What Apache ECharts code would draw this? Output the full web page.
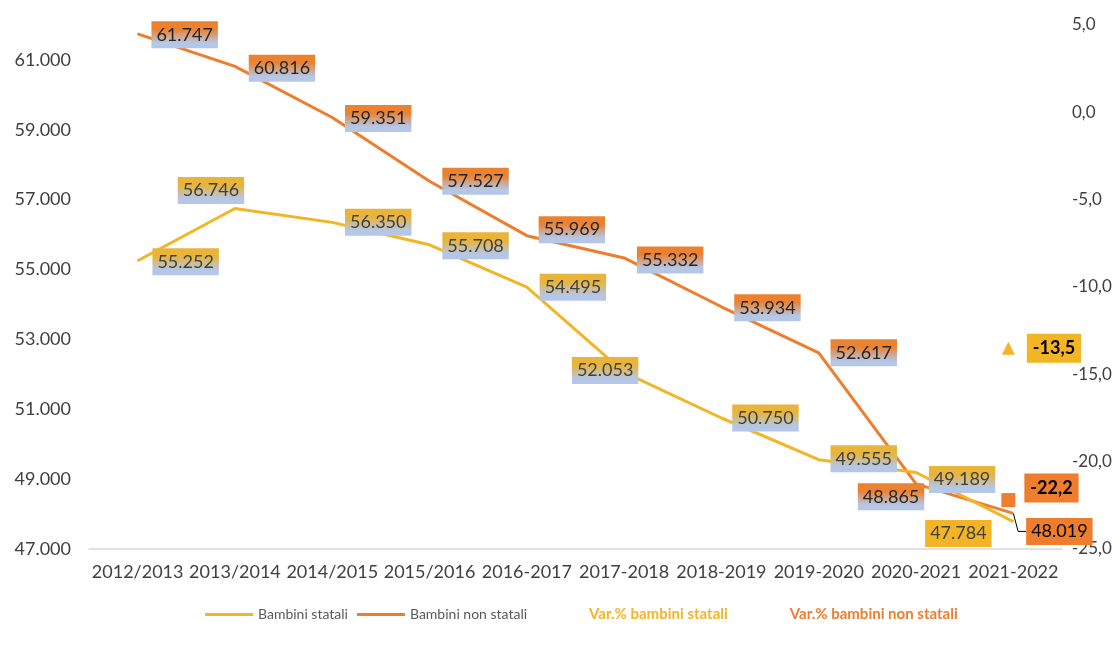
<!DOCTYPE html>
<html>
<head>
<meta charset="UTF-8">
<title>Bambini statali e non statali</title>
<script src="https://cdn.jsdelivr.net/npm/echarts@6/dist/echarts.min.js"></script>
<style>
  html, body { margin: 0; padding: 0; background: #fff; }
  #chart { width: 1120px; height: 646px; }
</style>
</head>
<body>
<div id="chart"></div>
<script>
// dati
var categories = ['2012/2013', '2013/2014', '2014/2015', '2015/2016', '2016-2017',
                  '2017-2018', '2018-2019', '2019-2020', '2020-2021', '2021-2022'];
var bambiniStatali    = [55252, 56746, 56350, 55708, 54495, 52053, 50750, 49555, 49189, 47784];
var bambiniNonStatali = [61747, 60816, 59351, 57527, 55969, 55332, 53934, 52617, 48865, 48019];
// variazione % 2012/2013 -> 2021-2022, solo sull'ultima categoria
var varStatali    = [null, null, null, null, null, null, null, null, null, -13.5];
var varNonStatali = [null, null, null, null, null, null, null, null, null, -22.2];
var leftAxis  = { min: 47000, max: 62000, step: 2000 };
var rightAxis = { min: -25, max: 5, step: 5 };

var YELLOW = '#F2B525';
var ORANGE = '#EE7D2E';
var FONT = 'Lato';
var LAST = bambiniNonStatali.length - 1;

// spostamento delle etichette rispetto al punto [dx, dy]
var offStatali    = [[48, 1], [-24, -18], [46, 0], [46, 1], [46, 0], [-19, -2], [44, 0], [45, -1], [46, 7], [-55, 12]];
var offNonStatali = [[47, 1], [47, 2], [46, 1], [46, 0], [45, -6], [46, 2], [46, 1], [45, 0], [-25, 13], [0, 0]];

function fmtThousands(v) {
  var s = String(Math.round(v));
  return s.replace(/\B(?=(\d{3})+(?!\d))/g, '.');
}
function fmtPct(p) { return p.value.toFixed(1).replace('.', ','); }
function grad(top) {
  return new echarts.graphic.LinearGradient(0, 0, 0, 1, [
    { offset: 0, color: top },
    { offset: 0.3, color: top },
    { offset: 0.8, color: '#B4C7E7' },
    { offset: 1, color: '#B4C7E7' }
  ]);
}

function lineData(values, offs, topColor, textColor, lastSolid, hideLast) {
  return values.map(function (v, i) {
    var lab = {
      show: true,
      position: 'inside',
      offset: offs[i],
      backgroundColor: grad(topColor),
      color: textColor
    };
    if (i === values.length - 1) {
      lab.backgroundColor = lastSolid;
      if (hideLast) lab.show = false;
    }
    return { value: v, label: lab };
  });
}

var chart = echarts.init(document.getElementById('chart'));
var baseLabel = {
  fontFamily: FONT,
  fontSize: 18,
  padding: [5, 5, 4, 5],
  formatter: function (p) { return fmtThousands(p.value); }
};

// solo l'ultimo valore dei non statali, con la linea guida verso l'etichetta
var lastNonStatali = bambiniNonStatali.map(function (v, i) { return i === LAST ? v : null; });

var option = {
  animation: false,
  backgroundColor: '#ffffff',
  textStyle: { fontFamily: FONT },
  grid: { left: 89, right: 58, top: 25, bottom: 97 },
  legend: {
    left: 200,
    top: 602,
    itemWidth: 48,
    itemHeight: 3,
    itemGap: 9,
    selectedMode: false,
    textStyle: { fontSize: 14, color: '#595959', fontFamily: FONT },
    data: [
      { name: 'Bambini statali', icon: 'rect' },
      { name: 'Bambini non statali', icon: 'rect' },
      { name: 'Var.% bambini statali', icon: 'none',
        textStyle: { color: YELLOW, fontWeight: 'bold', fontSize: 15 } },
      { name: 'Var.% bambini non statali', icon: 'none',
        textStyle: { color: ORANGE, fontWeight: 'bold', fontSize: 15 } }
    ]
  },
  xAxis: {
    type: 'category',
    data: categories,
    boundaryGap: true,
    axisLine: { onZero: false, lineStyle: { color: '#D9D9D9', width: 1.5 } },
    axisTick: { show: false },
    axisLabel: { interval: 0, color: '#404040', fontSize: 18, margin: 14, fontFamily: FONT }
  },
  yAxis: [{
    type: 'value',
    min: leftAxis.min,
    max: leftAxis.max,
    interval: leftAxis.step,
    splitLine: { show: false },
    axisLine: { show: false },
    axisTick: { show: false },
    axisLabel: {
      showMaxLabel: false,
      color: '#404040', fontSize: 18, margin: 18, fontFamily: FONT,
      formatter: function (v) { return fmtThousands(v); }
    }
  }, {
    type: 'value',
    min: rightAxis.min,
    max: rightAxis.max,
    interval: rightAxis.step,
    splitLine: { show: false },
    axisLine: { show: false },
    axisTick: { show: false },
    axisLabel: {
      color: '#404040', fontSize: 17, margin: 10, fontFamily: FONT,
      formatter: function (v) { return v.toFixed(1).replace('.', ','); }
    }
  }],
  series: [{
    name: 'Bambini non statali',
    type: 'line',
    data: lineData(bambiniNonStatali, offNonStatali, '#EB8230', '#262626', ORANGE, true),
    color: ORANGE,
    lineStyle: { width: 3, color: ORANGE },
    symbol: 'circle',
    symbolSize: 1,
    itemStyle: { color: ORANGE },
    label: baseLabel,
    emphasis: { disabled: true },
    z: 3
  }, {
    name: 'Bambini statali',
    type: 'line',
    data: lineData(bambiniStatali, offStatali, '#E8B43A', '#404040', YELLOW, false),
    color: YELLOW,
    lineStyle: { width: 3, color: YELLOW },
    symbol: 'circle',
    symbolSize: 1,
    itemStyle: { color: YELLOW },
    label: baseLabel,
    emphasis: { disabled: true },
    z: 4
  }, {
    name: 'nonStataliUltimo',
    type: 'scatter',
    data: lastNonStatali,
    symbolSize: 1,
    itemStyle: { color: ORANGE, opacity: 1 },
    label: {
      show: true, position: 'inside',
      backgroundColor: ORANGE, color: '#000',
      fontFamily: FONT, fontSize: 18, padding: [5, 5, 4, 5],
      formatter: function (p) { return fmtThousands(p.value); }
    },
    labelLayout: { dx: 46, dy: 18 },
    labelLine: { show: true, length2: 8, lineStyle: { color: '#000', width: 1, opacity: 1 } },
    emphasis: { disabled: true },
    z: 5
  }, {
    name: 'Var.% bambini statali',
    type: 'scatter',
    yAxisIndex: 1,
    data: varStatali,
    symbol: 'triangle',
    symbolSize: 13,
    symbolOffset: [-5, 0],
    itemStyle: { color: YELLOW, opacity: 1 },
    label: {
      show: true, position: 'right', distance: 12,
      backgroundColor: YELLOW, color: '#000', fontWeight: 'bold',
      fontFamily: FONT, fontSize: 18, padding: [6, 6, 5, 6],
      formatter: fmtPct
    },
    emphasis: { disabled: true }
  }, {
    name: 'Var.% bambini non statali',
    type: 'scatter',
    yAxisIndex: 1,
    data: varNonStatali,
    symbol: 'rect',
    symbolSize: 14,
    symbolOffset: [-5, 0],
    itemStyle: { color: ORANGE, opacity: 1 },
    label: {
      show: true, position: 'right', distance: 9, offset: [0, -12],
      backgroundColor: ORANGE, color: '#000', fontWeight: 'bold',
      fontFamily: FONT, fontSize: 18, padding: [6, 6, 5, 6],
      formatter: fmtPct
    },
    emphasis: { disabled: true }
  }]
};
chart.setOption(option);
</script>
</body>
</html>
